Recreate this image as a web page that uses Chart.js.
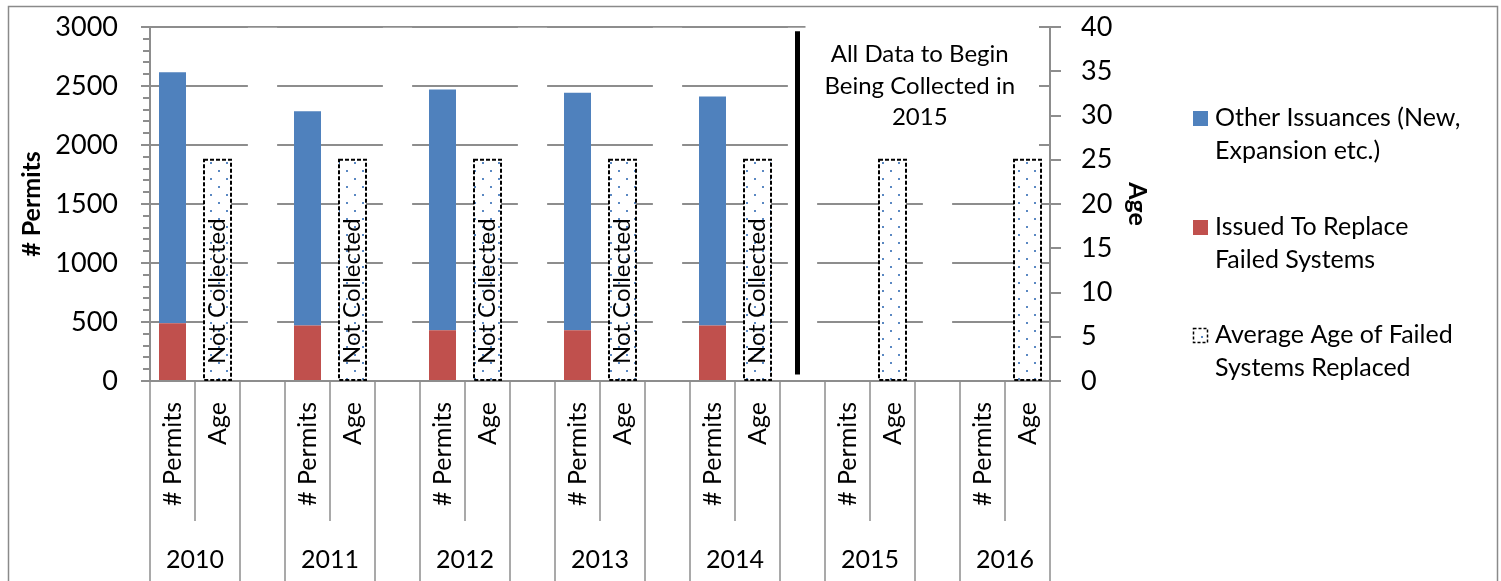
<!DOCTYPE html>
<html>
<head>
<meta charset="utf-8">
<script src="https://cdn.jsdelivr.net/npm/chart.js@4.4.1/dist/chart.umd.min.js"></script>
<style>
  body { margin: 0; background: #fff; }
  canvas { display: block; }
</style>
</head>
<body>
<canvas id="chart" width="1501" height="581"></canvas>
<script>
// values
var years = ['2010', '2011', '2012', '2013', '2014', '2015', '2016'];
var replacedFailed = [490, 470, 430, 430, 470, null, null];
var otherIssuances = [2127, 1815, 2040, 2013, 1940, null, null];
var averageAge = [25, 25, 25, 25, 25, 25, 25];
var ageNotes = ['Not Collected', 'Not Collected', 'Not Collected', 'Not Collected', 'Not Collected', '', ''];
var subLabels = ['# Permits', 'Age'];
var nameOther = ['Other Issuances (New,', 'Expansion etc.)'];
var nameReplaced = ['Issued To Replace', 'Failed Systems'];
var nameAge = ['Average Age of Failed', 'Systems Replaced'];
var noteLines = ['All Data to Begin', 'Being Collected in', '2015'];

var FONT = 'Lato';
var GRID = '#8d8d8d';

// one slot per bar, plus an empty slot between years
var slots = [], slotYear = [], redData = [], blueData = [], ageData = [], maskData = [], slotNote = [];
years.forEach(function (yr, i) {
    slots.push(subLabels[0]); slotYear.push(i);
    redData.push(replacedFailed[i]); blueData.push(otherIssuances[i]); ageData.push(null); maskData.push(null); slotNote.push('');
    slots.push(subLabels[1]); slotYear.push(i);
    redData.push(null); blueData.push(null); ageData.push(averageAge[i]); maskData.push(null); slotNote.push(ageNotes[i]);
    if (i < years.length - 1) {
        slots.push(''); slotYear.push(-1);
        redData.push(null); blueData.push(null); ageData.push(null); maskData.push([12, 2994]); slotNote.push('');
    }
});

function dotPattern() {
    var c = document.createElement('canvas');
    c.width = 16; c.height = 16;
    var g = c.getContext('2d');
    g.fillStyle = '#ffffff';
    g.fillRect(0, 0, 16, 16);
    g.fillStyle = '#5a88c2';
    g.fillRect(2, 2, 2, 2);
    g.fillRect(10, 10, 2, 2);
    return document.getElementById('chart').getContext('2d').createPattern(c, 'repeat');
}

function tickMarks(ctx, scale, x0, x1, step, skip) {
    for (var v = scale.min; v <= scale.max; v += step) {
        if (skip && v % skip === 0) continue;
        var py = Math.round(scale.getPixelForValue(v));
        ctx.beginPath();
        ctx.moveTo(x0, py);
        ctx.lineTo(x1, py);
        ctx.stroke();
    }
}

var decor = {
    id: 'decor',
    beforeDatasetsDraw: function (chart) {
        var ctx = chart.ctx, x = chart.scales.x, y = chart.scales.y, area = chart.chartArea;
        var lineX = (x.getPixelForValue(13) + x.getPixelForValue(15)) / 2 - 5;
        // text box of the note hides the gridlines behind it
        ctx.save();
        ctx.fillStyle = '#ffffff';
        ctx.fillRect(lineX + 8, area.top - 2, area.right - 11 - lineX - 8, y.getPixelForValue(1800) - area.top + 2);
        ctx.restore();
    },
    afterDatasetsDraw: function (chart) {
        var ctx = chart.ctx, x = chart.scales.x, y = chart.scales.y, area = chart.chartArea;
        var meta = chart.getDatasetMeta(2);
        ctx.save();
        meta.data.forEach(function (bar, i) {
            if (ageData[i] == null) return;
            var p = bar.getProps(['x', 'y', 'base', 'width'], true);
            ctx.setLineDash([4, 2]);
            ctx.lineWidth = 2;
            ctx.strokeStyle = '#000000';
            ctx.strokeRect(p.x - p.width / 2, p.y, p.width, p.base - p.y);
            if (slotNote[i]) {
                ctx.save();
                ctx.translate(p.x, p.base - 16);
                ctx.rotate(-Math.PI / 2);
                ctx.font = '24px ' + FONT;
                ctx.fillStyle = '#000000';
                ctx.textAlign = 'left';
                ctx.textBaseline = 'middle';
                ctx.fillText(slotNote[i], 0, 0);
                ctx.restore();
            }
        });
        ctx.setLineDash([]);
        // divider between collected and not collected years
        var lineX = (x.getPixelForValue(13) + x.getPixelForValue(15)) / 2 - 5;
        ctx.strokeStyle = '#000000';
        ctx.lineWidth = 5;
        ctx.beginPath();
        ctx.moveTo(lineX, y.getPixelForValue(2965));
        ctx.lineTo(lineX, y.getPixelForValue(55));
        ctx.stroke();
        ctx.font = '24px ' + FONT;
        ctx.fillStyle = '#000000';
        ctx.textAlign = 'center';
        ctx.textBaseline = 'alphabetic';
        var cx = (lineX + area.right) / 2 - 4;
        noteLines.forEach(function (t, k) {
            ctx.fillText(t, cx, 62 + k * 31.7);
        });
        ctx.restore();
    },
    afterDraw: function (chart) {
        var ctx = chart.ctx, x = chart.scales.x, y = chart.scales.y, y2 = chart.scales.y2, area = chart.chartArea;
        ctx.save();
        // tick marks on both value axes
        ctx.strokeStyle = GRID;
        ctx.lineWidth = 2;
        tickMarks(ctx, y, area.left - 9, area.left, 500, 0);
        tickMarks(ctx, y, area.left - 7, area.left, 100, 500);
        tickMarks(ctx, y2, area.right, area.right + 11, 5, 0);
        // category separators
        var half = (x.getPixelForValue(1) - x.getPixelForValue(0)) / 2;
        ctx.lineWidth = 1.5;
        for (var b = 0; b <= slots.length; b++) {
            var px = b < slots.length ? x.getPixelForValue(b) - half : x.getPixelForValue(slots.length - 1) + half;
            var short = b < slots.length && slots[b] === subLabels[1];
            ctx.beginPath();
            ctx.moveTo(px, area.bottom);
            ctx.lineTo(px, short ? area.bottom + 140 : chart.height);
            ctx.stroke();
        }
        // year row
        ctx.font = '25px ' + FONT;
        ctx.fillStyle = '#000000';
        ctx.textAlign = 'center';
        ctx.textBaseline = 'alphabetic';
        years.forEach(function (yr, i) {
            var idx = slotYear.indexOf(i);
            ctx.fillText(yr, (x.getPixelForValue(idx) + x.getPixelForValue(idx + 1)) / 2, 568);
        });
        // legend
        var lx = 1193, tx = 1215;
        var entries = [
            {lines: nameOther, color: chart.data.datasets[1].backgroundColor, base: 126},
            {lines: nameReplaced, color: chart.data.datasets[0].backgroundColor, base: 235},
            {lines: nameAge, color: null, base: 343}
        ];
        ctx.textAlign = 'left';
        ctx.font = '25px ' + FONT;
        entries.forEach(function (e) {
            if (e.color) {
                ctx.fillStyle = e.color;
                ctx.fillRect(lx, e.base - 15, 15, 15);
            } else {
                ctx.fillStyle = '#ffffff';
                ctx.fillRect(lx, e.base - 15, 15, 15);
                ctx.fillStyle = '#5a88c2';
                ctx.fillRect(lx + 8, e.base - 7, 2, 2);
                ctx.setLineDash([3, 2]);
                ctx.strokeStyle = '#000000';
                ctx.lineWidth = 1.5;
                ctx.strokeRect(lx + 0.5, e.base - 14.5, 14, 14);
                ctx.setLineDash([]);
            }
            ctx.fillStyle = '#000000';
            e.lines.forEach(function (t, k) {
                ctx.fillText(t, tx, e.base + k * 32.7);
            });
        });
        // outer frame
        ctx.strokeStyle = '#8a8a8a';
        ctx.lineWidth = 1.5;
        ctx.strokeRect(8.5, 6.5, 1489, 600);
        ctx.restore();
    }
};

var ctx = document.getElementById('chart').getContext('2d');
var chart = new Chart(ctx, {
    type: 'bar',
    data: {
        labels: slots,
        datasets: [{
            label: nameReplaced.join(' '),
            data: redData,
            backgroundColor: '#C0504D',
            yAxisID: 'y',
            barPercentage: 0.6,
            categoryPercentage: 1
        }, {
            label: nameOther.join(' '),
            data: blueData,
            backgroundColor: '#4F81BD',
            yAxisID: 'y',
            barPercentage: 0.6,
            categoryPercentage: 1
        }, {
            label: nameAge.join(' '),
            data: ageData,
            backgroundColor: dotPattern(),
            yAxisID: 'y2',
            barPercentage: 0.6,
            categoryPercentage: 1
        }, {
            label: 'mask',
            data: maskData,
            backgroundColor: '#ffffff',
            yAxisID: 'y',
            barPercentage: 0.65,
            categoryPercentage: 1
        }]
    },
    options: {
        responsive: false,
        animation: false,
        events: [],
        layout: { padding: { top: 27, right: 346, bottom: 0, left: 0 } },
        plugins: { legend: { display: false }, tooltip: { enabled: false } },
        scales: {
            x: {
                stacked: true,
                afterFit: function (s) { s.height = 200; },
                grid: { display: false, drawTicks: false },
                border: { color: GRID, width: 2 },
                ticks: {
                    autoSkip: false,
                    minRotation: 90,
                    maxRotation: 90,
                    padding: 21,
                    color: '#000000',
                    font: { family: FONT, size: 25 }
                }
            },
            y: {
                stacked: true,
                min: 0,
                max: 3000,
                afterFit: function (s) { s.width = 150; },
                ticks: {
                    stepSize: 500,
                    padding: 0,
                    color: '#000000',
                    font: { family: FONT, size: 27 },
                    callback: function (value) { return String(value); }
                },
                grid: { color: GRID, lineWidth: 2, tickLength: 32, tickColor: 'rgba(0,0,0,0)' },
                border: { color: GRID, width: 2 },
                title: {
                    display: true,
                    text: '# Permits',
                    color: '#000000',
                    padding: { top: 17, bottom: 0 },
                    font: { family: FONT, size: 25, weight: 'bold' }
                }
            },
            y2: {
                position: 'right',
                min: 0,
                max: 40,
                afterFit: function (s) { s.width = 105; },
                ticks: {
                    stepSize: 5,
                    padding: 0,
                    color: '#000000',
                    font: { family: FONT, size: 27 }
                },
                grid: { drawOnChartArea: false, lineWidth: 2, tickLength: 31, tickColor: 'rgba(0,0,0,0)' },
                border: { color: GRID, width: 2 },
                title: {
                    display: true,
                    text: 'Age',
                    color: '#000000',
                    padding: { top: 3, bottom: 0 },
                    font: { family: FONT, size: 25, weight: 'bold' }
                }
            }
        }
    },
    plugins: [decor]
});
</script>
</body>
</html>
